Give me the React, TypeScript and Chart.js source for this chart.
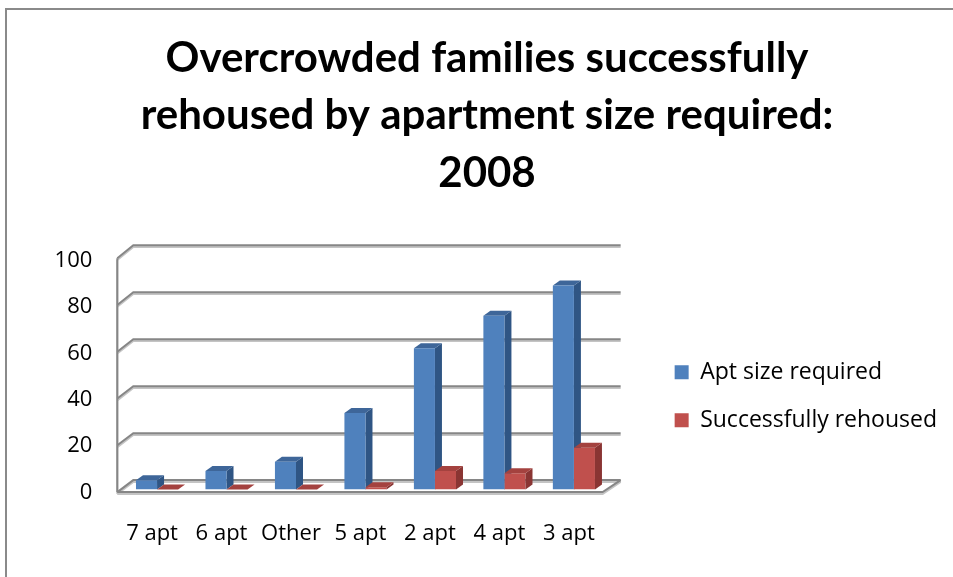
import React, { useEffect, useRef } from 'react';
import { Chart, registerables } from 'chart.js';

Chart.register(...registerables);

// ---- data ----
const categories = ['7 apt', '6 apt', 'Other', '5 apt', '2 apt', '4 apt', '3 apt'];
const aptSizeRequired = [4, 8, 12, 33, 61, 75, 88];
const successfullyRehoused = [0, 0, 0, 1, 8, 7, 18];
const seriesNames = ['Apt size required', 'Successfully rehoused'];
const titleLines = ['Overcrowded families successfully', 'rehoused by apartment size required:', '2008'];
const yMin = 0;
const yMax = 100;
const yStep = 20;

// ---- style ----
const TITLE_FONT = 'Lato, "Open Sans", sans-serif';
const FONT = '"Open Sans", Lato, "Noto Sans", sans-serif';
const FRONT = ['#4F81BD', '#C0504D'];
const SIDE = ['#2F5584', '#8A3533'];
const TOP = ['#3E6699', '#A4423F'];
const GRID_DARK = '#868686';
const GRID_LIGHT = '#c4c4c4';
const BAR_DX = 7;
const BAR_DY = -5;

function drawFaces(chart: any, datasetIndex: number) {
  const { ctx } = chart;
  const meta = chart.getDatasetMeta(datasetIndex);
  ctx.save();
  meta.data.forEach((bar: any) => {
    const { x, y, base, width } = bar.getProps(['x', 'y', 'base', 'width'], true);
    const x0 = x - width / 2;
    const x1 = x + width / 2;
    ctx.fillStyle = SIDE[datasetIndex];
    ctx.beginPath();
    ctx.moveTo(x1, y);
    ctx.lineTo(x1 + BAR_DX, y + BAR_DY);
    ctx.lineTo(x1 + BAR_DX, base + BAR_DY);
    ctx.lineTo(x1, base);
    ctx.closePath();
    ctx.fill();
    ctx.fillStyle = TOP[datasetIndex];
    ctx.beginPath();
    ctx.moveTo(x0, y);
    ctx.lineTo(x1, y);
    ctx.lineTo(x1 + BAR_DX, y + BAR_DY);
    ctx.lineTo(x0 + BAR_DX, y + BAR_DY);
    ctx.closePath();
    ctx.fill();
  });
  ctx.restore();
}

const depthPlugin = {
  id: 'depth3d',
  beforeDatasetsDraw(chart: any) {
    const { ctx, chartArea: a, scales } = chart;
    const y = scales.y;
    const yF0 = y.getPixelForValue(yMin) + 2.5;
    const yF100 = y.getPixelForValue(yMax) + 0.5;
    const yB0 = y.getPixelForValue(yMin) - 9.5;
    const yB100 = y.getPixelForValue(yMax) - 12.5;
    const xF = a.left - 5;
    const xB = a.left + 11;
    const xR = a.right + 12;
    const xFR = a.right - 6;
    const yf = (v: number) => yF0 + ((yF100 - yF0) * (v - yMin)) / (yMax - yMin);
    const yb = (v: number) => yB0 + ((yB100 - yB0) * (v - yMin)) / (yMax - yMin);
    const values = y.ticks.map((t: any) => t.value);
    ctx.save();
    ctx.lineWidth = 2;
    const stroke = (pts: number[][], color: string, off: number) => {
      ctx.strokeStyle = color;
      ctx.beginPath();
      pts.forEach((p, i) => (i ? ctx.lineTo(p[0], p[1] + off) : ctx.moveTo(p[0], p[1] + off)));
      ctx.stroke();
    };
    const paths: number[][][] = [];
    values.forEach((v: number) => {
      paths.push([
        [xF, yf(v)],
        [xB, yb(v)],
        [xR, yb(v)],
      ]);
    });
    paths.push([
      [xF, yf(yMin)],
      [xFR, yf(yMin)],
      [xR, yb(yMin)],
    ]);
    paths.push([
      [xF, yf(yMax)],
      [xF, yf(yMin)],
    ]);
    paths.forEach((p) => stroke(p, GRID_LIGHT, 1.8));
    paths.forEach((p) => stroke(p, GRID_DARK, 0));
    ctx.restore();
    // depth faces of the back-most series in each group (drawn before the fronts)
    for (let i = 0; i < chart.data.datasets.length - 1; i++) drawFaces(chart, i);
  },
  afterDatasetsDraw(chart: any) {
    drawFaces(chart, chart.data.datasets.length - 1);
  },
};

export default function App() {
  const ref = useRef<HTMLCanvasElement | null>(null);

  useEffect(() => {
    if (!ref.current) return;
    Chart.defaults.color = '#000';
    const chart = new Chart(ref.current, {
      type: 'bar',
      data: {
        labels: categories,
        datasets: [
          {
            label: seriesNames[0],
            data: aptSizeRequired,
            backgroundColor: FRONT[0],
            borderWidth: 0,
            categoryPercentage: 0.606,
            barPercentage: 1,
          },
          {
            label: seriesNames[1],
            data: successfullyRehoused,
            backgroundColor: FRONT[1],
            borderWidth: 0,
            categoryPercentage: 0.606,
            barPercentage: 1,
          },
        ],
      },
      options: {
        responsive: false,
        animation: false,
        devicePixelRatio: 1,
        layout: { padding: { top: 10, left: 27, right: 6, bottom: 0 } },
        plugins: {
          tooltip: { enabled: false },
          title: {
            display: true,
            text: titleLines,
            color: '#000',
            font: { family: TITLE_FONT, size: 42, weight: 'bold', lineHeight: 1.369 },
            padding: { top: 19.25, bottom: 56 },
          },
          legend: {
            position: 'right',
            fullSize: false,
            align: 'center',
            maxWidth: 400,
            title: {
              display: true,
              text: '',
              font: { family: FONT, size: 20, lineHeight: 1.25 },
              padding: { top: 10, bottom: 10 },
            },
            labels: {
              color: '#000',
              font: { family: FONT, size: 23 },
              boxWidth: 14,
              boxHeight: 14,
              padding: 25,
            },
          },
        },
        scales: {
          x: {
            grid: { display: false, drawTicks: false },
            border: { display: false },
            ticks: { font: { family: FONT, size: 22 }, color: '#000', padding: 30.5, labelOffset: -5, maxRotation: 0 },
          },
          y: {
            min: yMin,
            max: yMax,
            grid: { display: false, drawTicks: false },
            border: { display: false },
            ticks: { stepSize: yStep, font: { family: FONT, size: 22 }, color: '#000', padding: 30, labelOffset: 3 },
            afterFit: (s: any) => {
              s.width = 95.3;
            },
          },
          gap: {
            type: 'linear',
            axis: 'y',
            position: 'right',
            display: true,
            grid: { display: false, drawTicks: false },
            border: { display: false },
            ticks: { display: false },
            afterFit: (s: any) => {
              s.width = 41;
            },
          },
        },
      },
      plugins: [depthPlugin],
    } as any);
    return () => chart.destroy();
  }, []);

  return (
    <div style={{ position: 'absolute', left: 0, top: 0, width: 953, height: 577, overflow: 'hidden', background: '#fff' }}>
      <canvas ref={ref} width={953} height={577} style={{ display: 'block' }} />
      <div
        style={{
          position: 'absolute',
          left: 5,
          top: 8,
          width: 948,
          height: 569,
          boxSizing: 'border-box',
          borderTop: '2px solid #8a8a8a',
          borderLeft: '2px solid #8a8a8a',
          pointerEvents: 'none',
        }}
      />
    </div>
  );
}
